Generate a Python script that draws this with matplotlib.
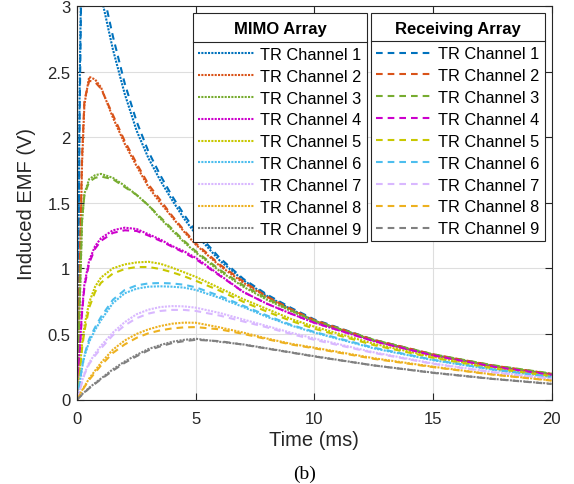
import matplotlib
matplotlib.use('Agg')
import matplotlib.pyplot as plt
from matplotlib.lines import Line2D
from matplotlib.offsetbox import PaddedBox

plt.rcParams['font.family'] = ['Liberation Sans', 'DejaVu Sans']

# time axis (ms) shared by all traces
T = [0, 0.1, 0.2, 0.3, 0.5, 0.75, 1, 1.5, 2, 2.5, 3, 3.5, 4, 4.5, 5,
     6, 7, 8, 9, 10, 12.5, 15, 17.5, 20]

# MIMO array, channels 1..9 (dotted)
mimo_1 = [0, 2.4, 3.7, 3.8, 3.6, 3.35, 3.08, 2.67, 2.33, 2.05, 1.84, 1.67, 1.52, 1.38, 1.26,
          1.06, 0.91, 0.79, 0.69, 0.60, 0.45, 0.34, 0.255, 0.19]
mimo_2 = [0, 0.9, 1.8, 2.25, 2.46, 2.44, 2.38, 2.15, 1.95, 1.78, 1.62, 1.50, 1.39, 1.28, 1.18,
          1.02, 0.89, 0.78, 0.685, 0.60, 0.45, 0.34, 0.255, 0.19]
mimo_3 = [0, 0.7, 1.35, 1.57, 1.68, 1.71, 1.72, 1.69, 1.63, 1.56, 1.48, 1.38, 1.29, 1.20, 1.12,
          0.98, 0.86, 0.76, 0.675, 0.595, 0.45, 0.34, 0.258, 0.195]
mimo_4 = [0, 0.38, 0.68, 0.88, 1.06, 1.17, 1.23, 1.29, 1.31, 1.30, 1.26, 1.22, 1.17, 1.13, 1.08,
          0.95, 0.82, 0.73, 0.655, 0.585, 0.445, 0.335, 0.25, 0.187]
mimo_5 = [0, 0.22, 0.42, 0.56, 0.74, 0.86, 0.93, 1.0, 1.03, 1.045, 1.05, 1.035, 1.005, 0.97, 0.935,
          0.85, 0.765, 0.69, 0.615, 0.555, 0.425, 0.325, 0.243, 0.183]
mimo_6 = [0, 0.12, 0.24, 0.33, 0.44, 0.53, 0.605, 0.735, 0.81, 0.845, 0.86, 0.863, 0.86, 0.853, 0.835,
          0.775, 0.705, 0.63, 0.565, 0.51, 0.39, 0.30, 0.228, 0.17]
mimo_7 = [0, 0.07, 0.14, 0.2, 0.28, 0.35, 0.41, 0.51, 0.59, 0.65, 0.685, 0.705, 0.712, 0.71, 0.70,
          0.66, 0.61, 0.56, 0.51, 0.465, 0.36, 0.275, 0.21, 0.16]
mimo_8 = [0, 0.035, 0.07, 0.1, 0.16, 0.22, 0.28, 0.38, 0.45, 0.5, 0.535, 0.56, 0.578, 0.586, 0.585,
          0.55, 0.51, 0.465, 0.425, 0.395, 0.315, 0.25, 0.192, 0.146]
mimo_9 = [0, 0.02, 0.04, 0.055, 0.09, 0.125, 0.16, 0.23, 0.29, 0.34, 0.385, 0.415, 0.44, 0.455, 0.463,
          0.44, 0.42, 0.39, 0.36, 0.33, 0.26, 0.205, 0.158, 0.12]

# receiving array, channels 1..9 (dashed)
recv_1 = [0, 2.2, 3.6, 3.85, 3.7, 3.45, 3.18, 2.77, 2.41, 2.12, 1.89, 1.71, 1.55, 1.41, 1.28,
          1.08, 0.92, 0.80, 0.70, 0.61, 0.455, 0.343, 0.258, 0.193]
recv_2 = [0, 1.0, 1.85, 2.28, 2.43, 2.42, 2.37, 2.17, 1.97, 1.80, 1.64, 1.52, 1.40, 1.29, 1.19,
          1.03, 0.90, 0.785, 0.69, 0.605, 0.455, 0.345, 0.26, 0.195]
recv_3 = [0, 0.75, 1.38, 1.56, 1.66, 1.69, 1.70, 1.68, 1.62, 1.56, 1.48, 1.39, 1.30, 1.21, 1.13,
          0.99, 0.87, 0.77, 0.68, 0.60, 0.455, 0.345, 0.262, 0.198]
recv_4 = [0, 0.36, 0.66, 0.86, 1.04, 1.15, 1.21, 1.27, 1.29, 1.285, 1.25, 1.21, 1.165, 1.12, 1.07,
          0.945, 0.82, 0.73, 0.655, 0.585, 0.445, 0.337, 0.252, 0.188]
recv_5 = [0, 0.2, 0.39, 0.52, 0.70, 0.82, 0.89, 0.96, 0.995, 1.01, 1.01, 0.995, 0.97, 0.94, 0.905,
          0.83, 0.745, 0.67, 0.60, 0.54, 0.415, 0.318, 0.238, 0.178]
recv_6 = [0, 0.13, 0.25, 0.34, 0.46, 0.55, 0.63, 0.76, 0.835, 0.87, 0.885, 0.888, 0.885, 0.875, 0.855,
          0.79, 0.715, 0.64, 0.57, 0.515, 0.395, 0.303, 0.23, 0.172]
recv_7 = [0, 0.065, 0.13, 0.19, 0.27, 0.335, 0.39, 0.49, 0.565, 0.62, 0.655, 0.675, 0.683, 0.683, 0.675,
          0.64, 0.595, 0.55, 0.50, 0.455, 0.355, 0.272, 0.208, 0.158]
recv_8 = [0, 0.032, 0.065, 0.095, 0.15, 0.205, 0.26, 0.355, 0.42, 0.47, 0.505, 0.527, 0.542, 0.55, 0.552,
          0.535, 0.50, 0.46, 0.42, 0.39, 0.31, 0.247, 0.19, 0.144]
recv_9 = [0, 0.018, 0.036, 0.052, 0.085, 0.12, 0.155, 0.22, 0.28, 0.33, 0.375, 0.405, 0.43, 0.445, 0.455,
          0.445, 0.418, 0.388, 0.358, 0.328, 0.26, 0.203, 0.157, 0.118]

MIMO = [mimo_1, mimo_2, mimo_3, mimo_4, mimo_5, mimo_6, mimo_7, mimo_8, mimo_9]
RECV = [recv_1, recv_2, recv_3, recv_4, recv_5, recv_6, recv_7, recv_8, recv_9]
LABELS = [f'TR Channel {i}' for i in range(1, 10)]
COLORS = ['#0072BD', '#D95319', '#77AC30', '#CC00CC', '#C8C800',
          '#4DBEEE', '#D9B8FF', '#EDB120', '#808080']

W, H = 574, 485
fig = plt.figure(figsize=(W / 100, H / 100), dpi=100)
ax = fig.add_axes([77.3 / W, (H - 400.5) / H, 474.2 / W, 393.5 / H])

dot = (0, (1, 0.6))
dash = (0, (3.2, 2.4))
m_lines, r_lines = [], []
for y, c in zip(MIMO, COLORS):
    m_lines += ax.plot(T, y, color=c, lw=1.5, ls=dot)
for y, c in zip(RECV, COLORS):
    r_lines += ax.plot(T, y, color=c, lw=1.5, ls=dash)

ax.set_xlim(0, 20)
ax.set_ylim(0, 3)
ax.set_xticks([0, 5, 10, 15, 20])
ax.set_yticks([0, 0.5, 1, 1.5, 2, 2.5, 3])
ax.set_yticklabels(['0', '0.5', '1', '1.5', '2', '2.5', '3'])
ax.grid(True, color='#DEDEDE', lw=0.8)
ax.set_axisbelow(True)
for s in ax.spines.values():
    s.set_color('#262626')
    s.set_linewidth(0.8)
ax.tick_params(direction='in', length=5, width=0.8, colors='#262626',
               labelsize=12, top=True, right=True)
ax.tick_params(axis='x', pad=8.5)
ax.tick_params(axis='y', pad=5)
ax.set_xlabel('Time (ms)', fontsize=14.5, color='#262626', labelpad=3)
ax.set_ylabel('Induced EMF (V)', fontsize=14.5, color='#262626', labelpad=8)

leg_kw = dict(loc='upper left', fontsize=11.8, frameon=True, fancybox=False,
              framealpha=1, edgecolor='#262626', borderaxespad=0,
              handlelength=3.4, handletextpad=0.4, labelspacing=0.42,
              borderpad=0.3, bbox_transform=fig.transFigure,
              title_fontproperties={'weight': 'bold', 'size': 12})
leg1 = ax.legend(m_lines, LABELS, title='MIMO Array',
                 bbox_to_anchor=(193.3 / W, 1 - 14 / H), **leg_kw)
ax.add_artist(leg1)
leg2 = ax.legend(r_lines, LABELS, title='Receiving Array',
                 bbox_to_anchor=(371.3 / W, 1 - 13.5 / H), **leg_kw)
for lg in (leg1, leg2):
    lg.get_frame().set_linewidth(0.8)
    # a bit of extra room around the title, like a MATLAB legend header
    pb = PaddedBox(lg._legend_title_box, pad=2.5, draw_frame=False)
    pb.set_figure(fig)
    lg._legend_box._children[0] = pb

# separator under each legend title
fig.canvas.draw()
r = fig.canvas.get_renderer()
for lg in (leg1, leg2):
    fb = lg.get_frame().get_window_extent(r)
    tb = lg.get_title().get_window_extent(r)
    eb = lg.get_texts()[0].get_window_extent(r)
    yy = 0.5 * (0.5 * (tb.y0 + tb.y1) + 0.5 * (eb.y0 + eb.y1))
    fig.add_artist(Line2D([fb.x0 / W, fb.x1 / W], [yy / H, yy / H],
                          color='#262626', lw=0.8))

fig.text(305 / W, 1 - 474 / H, '(b)', family='Liberation Serif', fontsize=14,
         ha='center', va='center')

fig.savefig('out.png', dpi=100)
